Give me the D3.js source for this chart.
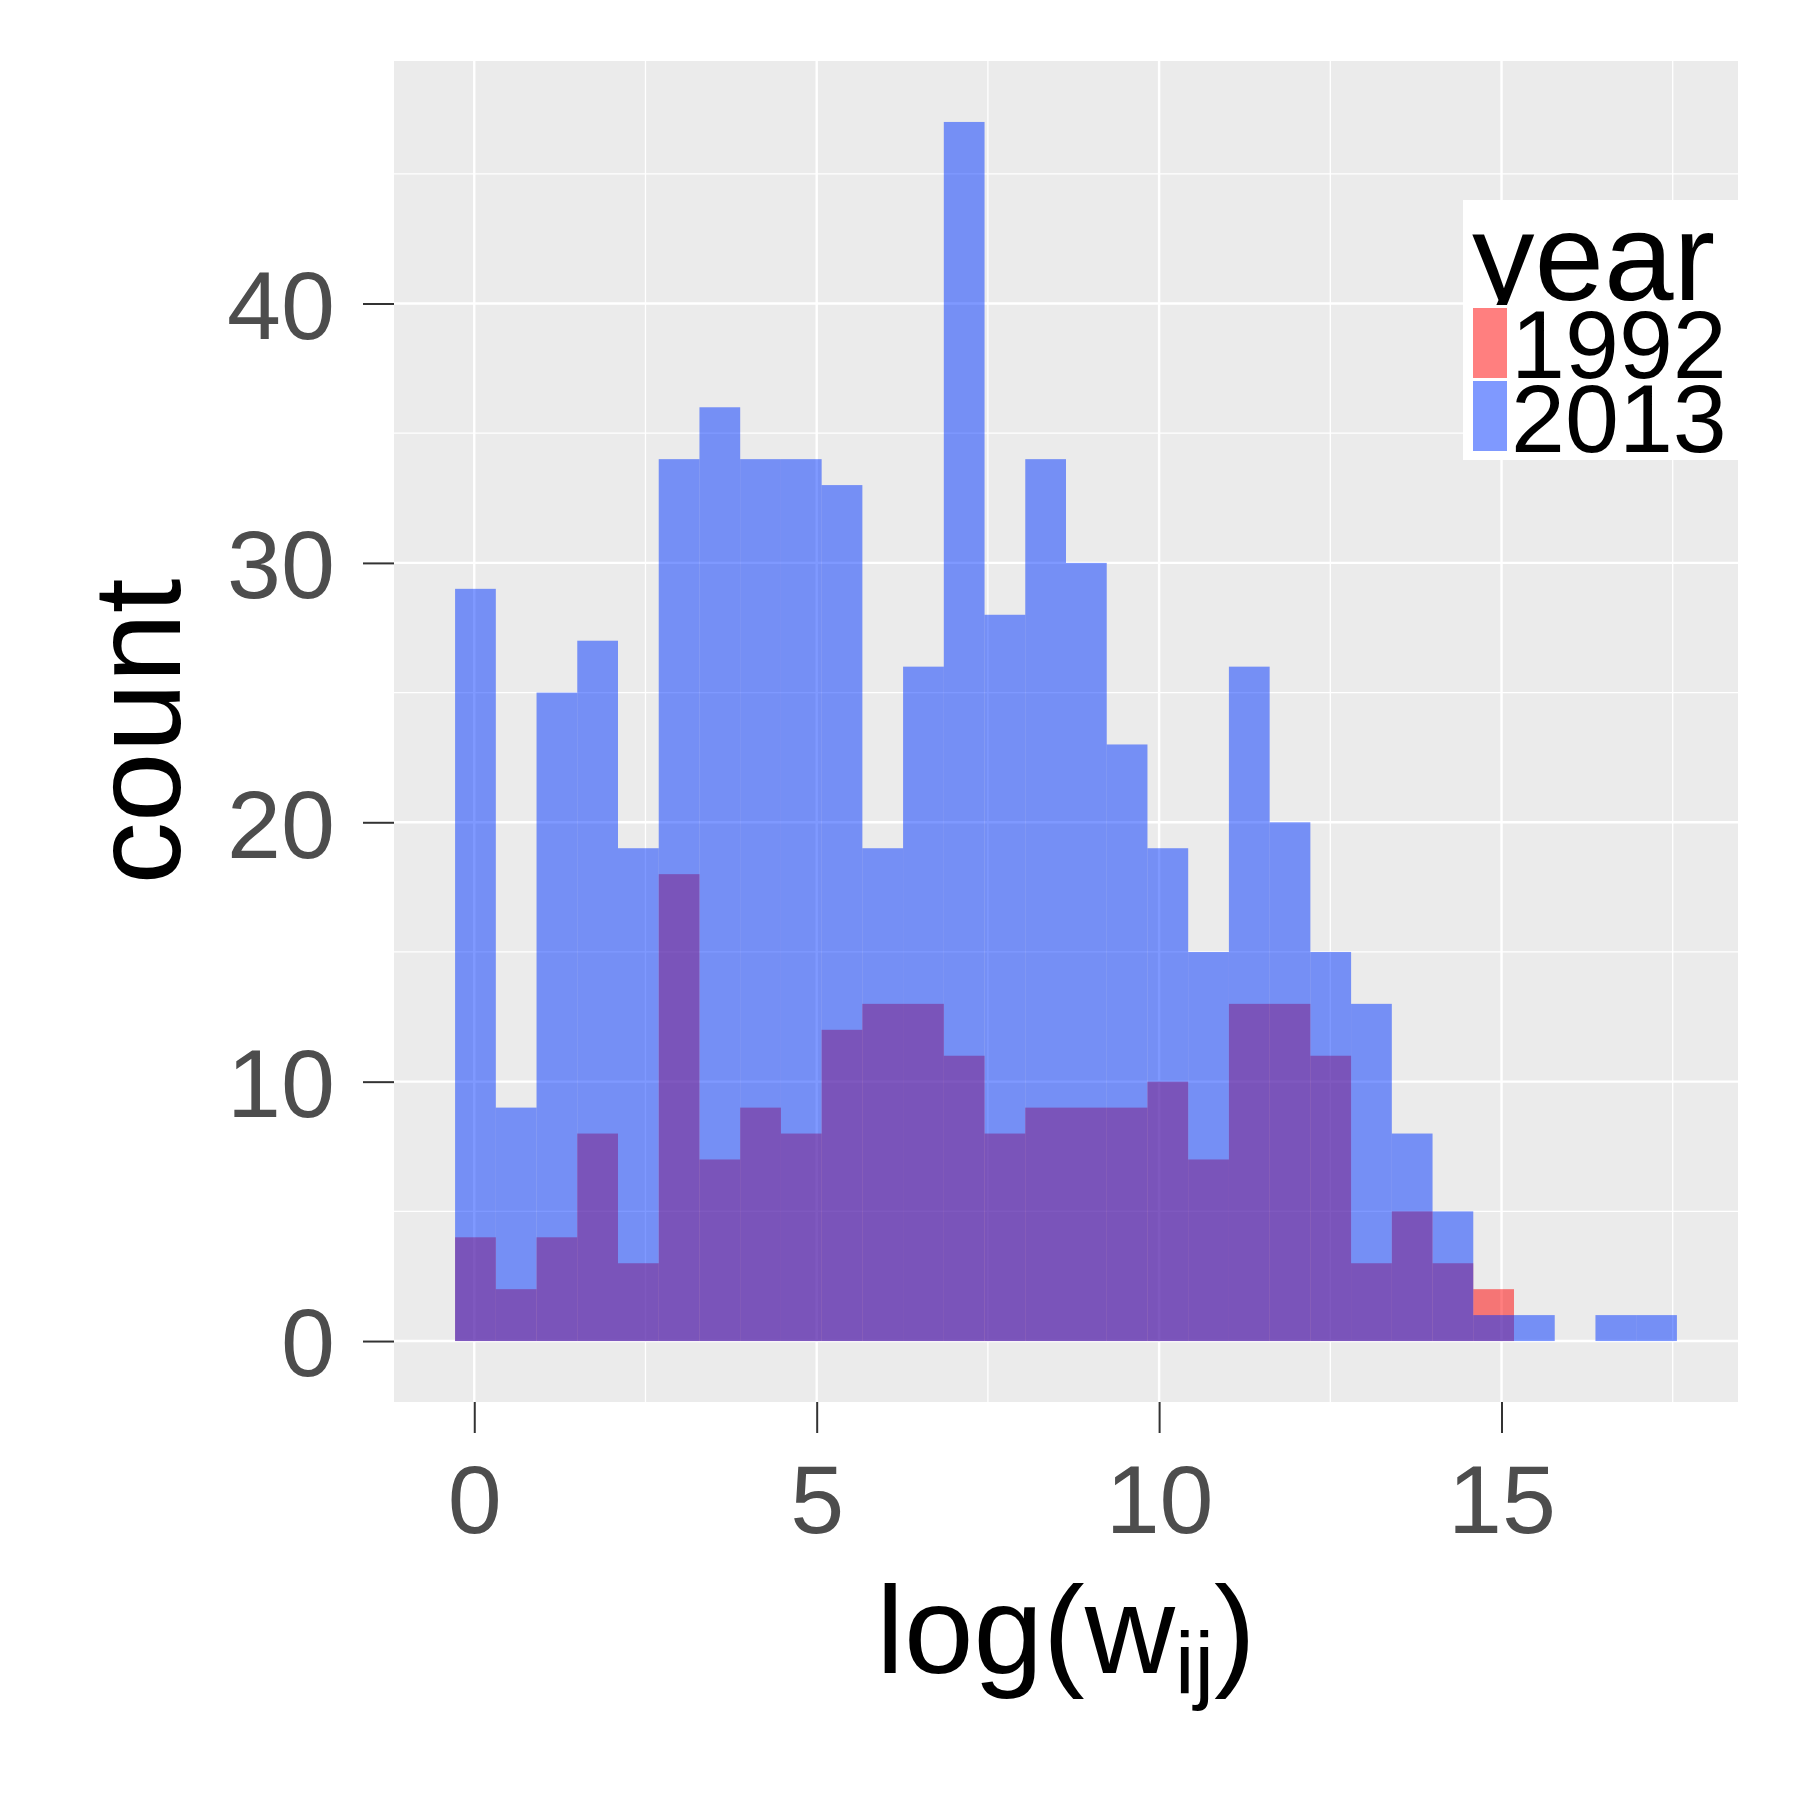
<!DOCTYPE html>
<html>
<head>
<meta charset="utf-8">
<script src="https://cdn.jsdelivr.net/npm/d3@7"></script>
<style>
  body { margin: 0; background: #fff; }
  text { font-family: "Liberation Sans", Arial, Helvetica, sans-serif; }
</style>
</head>
<body>
<div id="chart-wrapper"></div>
<script>

// histogram, 30 bins over log(w_ij)
const binStart = -0.28;
const binWidth = 0.5947;

const years = ["1992", "2013"];
const counts1992 = [4, 2, 4, 8, 3, 18, 7, 9, 8, 12, 13, 13, 11, 8, 9, 9, 9, 10, 7, 13, 13, 11, 3, 5, 3, 2, 0, 0, 0, 0];
const counts2013 = [29, 9, 25, 27, 19, 34, 36, 34, 34, 33, 19, 26, 47, 28, 34, 30, 23, 19, 15, 26, 20, 15, 13, 8, 5, 1, 1, 0, 1, 1];

const xTicks = [0, 5, 10, 15];
const xMinor = [2.5, 7.5, 12.5, 17.5];
const yTicks = [0, 10, 20, 30, 40];
const yMinor = [5, 15, 25, 35, 45];

const fillColors = ["#ff0000", "#0033ff"];

const fullWidth = 1800, fullHeight = 1800;
const panel = { left: 394, right: 1738, top: 61, bottom: 1402 };

const svg = d3.select("#chart-wrapper").append("svg")
    .attr("width", fullWidth)
    .attr("height", fullHeight);

// ggplot style expansion of 5% on both sides
const xMin = binStart, xMax = binStart + binWidth * counts2013.length;
const xPad = (xMax - xMin) * 0.05;
const yMax = d3.max(counts1992.concat(counts2013));

const xScale = d3.scaleLinear()
    .domain([xMin - xPad, xMax + xPad])
    .range([panel.left, panel.right]);

const yScale = d3.scaleLinear()
    .domain([-yMax * 0.05, yMax * 1.05])
    .range([panel.bottom, panel.top]);

// panel background
svg.append("rect")
    .attr("x", panel.left)
    .attr("y", panel.top)
    .attr("width", panel.right - panel.left)
    .attr("height", panel.bottom - panel.top)
    .attr("fill", "#ebebeb");

const grid = svg.append("g");

grid.selectAll(".hminor").data(yMinor).enter().append("line")
    .attr("x1", panel.left).attr("x2", panel.right)
    .attr("y1", d => yScale(d)).attr("y2", d => yScale(d))
    .attr("stroke", "#fff").attr("stroke-width", 1.3);

grid.selectAll(".vminor").data(xMinor).enter().append("line")
    .attr("y1", panel.top).attr("y2", panel.bottom)
    .attr("x1", d => xScale(d)).attr("x2", d => xScale(d))
    .attr("stroke", "#fff").attr("stroke-width", 1.3);

grid.selectAll(".hmajor").data(yTicks).enter().append("line")
    .attr("x1", panel.left).attr("x2", panel.right)
    .attr("y1", d => yScale(d)).attr("y2", d => yScale(d))
    .attr("stroke", "#fff").attr("stroke-width", 2.4);

grid.selectAll(".vmajor").data(xTicks).enter().append("line")
    .attr("y1", panel.top).attr("y2", panel.bottom)
    .attr("x1", d => xScale(d)).attr("x2", d => xScale(d))
    .attr("stroke", "#fff").attr("stroke-width", 2.4);

// bars: 1992 first, 2013 on top, both half transparent
const series = [counts1992, counts2013];
series.forEach((counts, s) => {
    svg.append("g").selectAll("rect")
        .data(counts)
        .enter().append("rect")
        .attr("x", (d, i) => xScale(binStart + i * binWidth))
        .attr("width", (d, i) => xScale(binStart + (i + 1) * binWidth) - xScale(binStart + i * binWidth))
        .attr("y", d => yScale(d))
        .attr("height", d => yScale(0) - yScale(d))
        .attr("fill", fillColors[s])
        .attr("fill-opacity", 0.5);
});

// axes
const yAxis = d3.axisLeft(yScale).tickValues(yTicks).tickSize(31).tickPadding(28);
const xAxis = d3.axisBottom(xScale).tickValues(xTicks).tickSize(31).tickPadding(30);

const gy = svg.append("g")
    .attr("transform", "translate(" + panel.left + ",0)")
    .call(yAxis);
const gx = svg.append("g")
    .attr("transform", "translate(0," + panel.bottom + ")")
    .call(xAxis);

[gx, gy].forEach(g => {
    g.select(".domain").remove();
    g.selectAll(".tick line").attr("stroke", "#333333").attr("stroke-width", 2);
    g.selectAll(".tick text")
        .attr("fill", "#4d4d4d")
        .style("font-size", "97px")
        .style("font-family", "'Liberation Sans', Arial, sans-serif");
});
gy.selectAll(".tick text").attr("dy", "0.36em");
gx.selectAll(".tick text").attr("dy", "0.72em");

// axis titles
svg.append("text")
    .attr("transform", "translate(180," + (panel.top + panel.bottom) / 2 + ") rotate(-90)")
    .attr("text-anchor", "middle")
    .style("font-size", "125px")
    .attr("fill", "#000")
    .text("count");

const xTitle = svg.append("text")
    .attr("x", (panel.left + panel.right) / 2)
    .attr("y", 1673)
    .attr("text-anchor", "middle")
    .style("font-size", "125px")
    .attr("fill", "#000");
xTitle.append("tspan").text("log(w");
xTitle.append("tspan").attr("dy", 20).style("font-size", "88px").text("ij");
xTitle.append("tspan").attr("dy", -20).text(")");

// legend
const legend = svg.append("g");
legend.append("rect")
    .attr("x", 1463).attr("y", 200)
    .attr("width", 275).attr("height", 260)
    .attr("fill", "#fff");

legend.append("text")
    .attr("x", 1472).attr("y", 300)
    .style("font-size", "125px")
    .attr("fill", "#000")
    .text("year");

legend.append("rect")
    .attr("x", 1470).attr("y", 305)
    .attr("width", 40).attr("height", 150)
    .attr("fill", "#fff");

const keyTop = [308, 381];
const labelBase = [378, 452];
years.forEach((yr, i) => {
    legend.append("rect")
        .attr("x", 1473).attr("y", keyTop[i])
        .attr("width", 34).attr("height", 70)
        .attr("fill", fillColors[i])
        .attr("fill-opacity", 0.5);
    legend.append("text")
        .attr("x", 1511).attr("y", labelBase[i])
        .style("font-size", "97px")
        .attr("fill", "#000")
        .text(yr);
});

</script>
</body>
</html>
